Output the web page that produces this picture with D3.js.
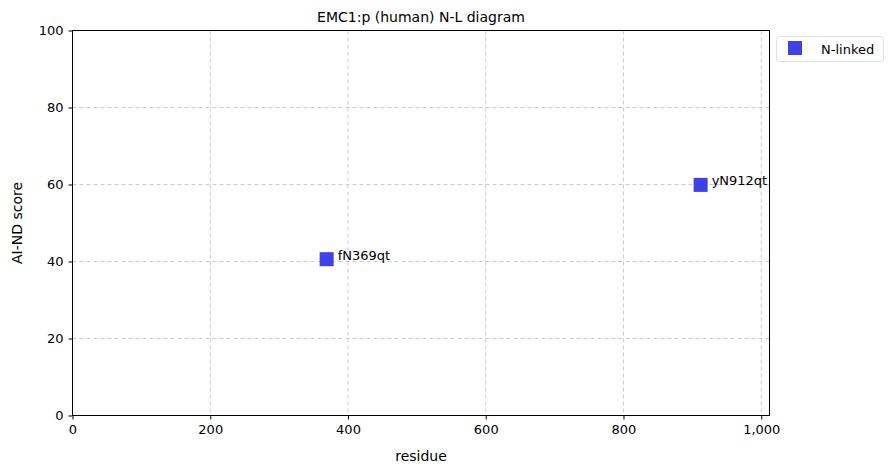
<!DOCTYPE html>
<html><head><meta charset="utf-8">
<script src="https://cdn.jsdelivr.net/npm/d3@7"></script>
<style>body{margin:0;background:#fff;font-family:"DejaVu Sans",sans-serif;}</style>
</head><body>
<svg id="c" width="893" height="474"></svg>
<script>
const title = "EMC1:p (human) N-L diagram";
const sites = ["fN369qt", "yN912qt"];
const residues = [369, 912];
const scores = [40.6, 59.9];
const xTicks = [0, 200, 400, 600, 800, 1000];
const yTicks = [0, 20, 40, 60, 80, 100];
const xMax = 1012;
const legendLabel = "N-linked";

const svg = d3.select("#c");
const m = {l: 72.5, r: 769.5, t: 30.5, b: 415.5};
const x = d3.scaleLinear().domain([0, xMax]).range([m.l, m.r]);
const y = d3.scaleLinear().domain([0, 100]).range([m.b, m.t]);
const font = "DejaVu Sans, sans-serif";
const col = "#4040e8";

// grid
const g = svg.append("g");
g.selectAll("line.gx").data(xTicks).join("line")
  .attr("x1", d => x(d)).attr("x2", d => x(d)).attr("y1", m.t).attr("y2", m.b)
  .attr("stroke", "#cccccc").attr("stroke-dasharray", "4,3").attr("stroke-width", 1);
g.selectAll("line.gy").data(yTicks).join("line")
  .attr("y1", d => y(d)).attr("y2", d => y(d)).attr("x1", m.l).attr("x2", m.r)
  .attr("stroke", "#cccccc").attr("stroke-dasharray", "4,3").attr("stroke-width", 1);

// axes
const fmt = d3.format(",");
const xa = svg.append("g").attr("transform", `translate(0,${m.b})`)
  .call(d3.axisBottom(x).tickValues(xTicks).tickFormat(fmt).tickSize(4).tickPadding(5));
const ya = svg.append("g").attr("transform", `translate(${m.l},0)`)
  .call(d3.axisLeft(y).tickValues(yTicks).tickSize(4).tickPadding(5));
[xa, ya].forEach(a => {
  a.select(".domain").remove();
  a.selectAll("text").attr("font-family", font).attr("font-size", 13).attr("fill", "#000");
  a.selectAll("line").attr("stroke", "#000");
});
svg.append("rect").attr("x", m.l).attr("y", m.t).attr("width", m.r - m.l).attr("height", m.b - m.t)
  .attr("fill", "none").attr("stroke", "#000").attr("stroke-width", 1);

// points
const data = sites.map((s, i) => ({s, r: residues[i], v: scores[i]}));
const sz = 14;
svg.selectAll("rect.pt").data(data).join("rect")
  .attr("x", d => x(d.r) - sz/2).attr("y", d => y(d.v) - sz/2)
  .attr("width", sz).attr("height", sz).attr("fill", col);
svg.selectAll("text.lab").data(data).join("text")
  .attr("x", d => x(d.r) + 11).attr("y", d => y(d.v) + 0.5)
  .attr("font-family", font).attr("font-size", 13).attr("fill", "#000")
  .text(d => d.s);

// title and labels
svg.append("text").attr("x", (m.l + m.r)/2).attr("y", 22).attr("text-anchor", "middle")
  .attr("font-family", font).attr("font-size", 14).text(title);
svg.append("text").attr("x", (m.l + m.r)/2).attr("y", 461).attr("text-anchor", "middle")
  .attr("font-family", font).attr("font-size", 14).text("residue");
svg.append("text").attr("transform", `translate(22,${(m.t + m.b)/2}) rotate(-90)`).attr("text-anchor", "middle")
  .attr("font-family", font).attr("font-size", 14).text("AI-ND score");

// legend
const lg = svg.append("g");
lg.append("rect").attr("x", 776.5).attr("y", 36.5).attr("width", 107).attr("height", 25).attr("rx", 3)
  .attr("fill", "#fff").attr("stroke", "#e0e0e0");
lg.append("rect").attr("x", 788).attr("y", 41).attr("width", 14).attr("height", 14).attr("fill", col);
lg.append("text").attr("x", 821).attr("y", 53.5).attr("font-family", font).attr("font-size", 13).text(legendLabel);
</script>
</body></html>
